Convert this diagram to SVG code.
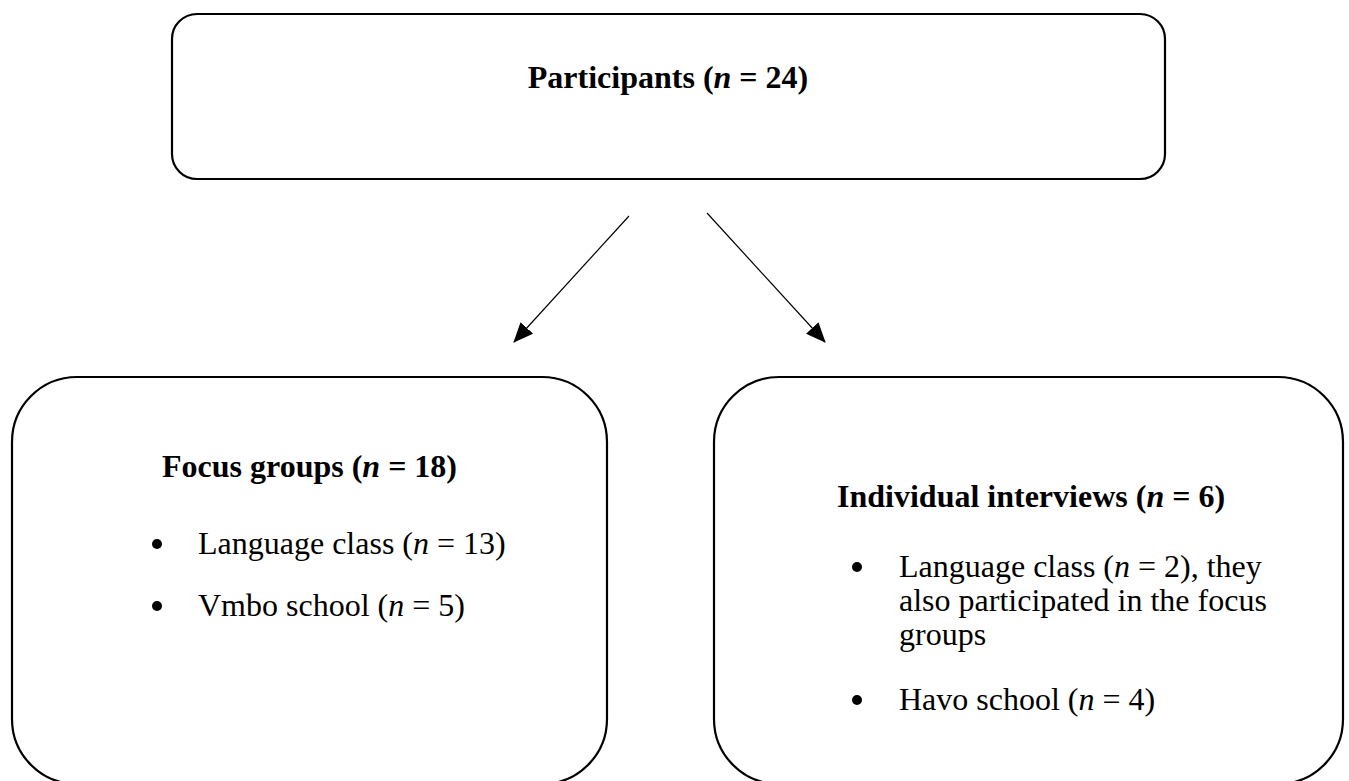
<svg xmlns="http://www.w3.org/2000/svg" width="1349" height="781" viewBox="0 0 1349 781">
<style>
.box{fill:#fff;stroke:#000;stroke-width:2.2}
.t{font-family:"Liberation Serif","Times New Roman",serif;font-size:32px;fill:#000}
.b{font-weight:bold}
.i{font-style:italic}
.edge{stroke:#000;stroke-width:1.2;fill:none}
</style>
<defs>
<marker id="ah" markerUnits="userSpaceOnUse" markerWidth="20" markerHeight="17" viewBox="0 0 20 17" refX="19" refY="8.5" orient="auto">
<path d="M0,0 L20,8.5 L0,17 Z" fill="#000"/>
</marker>
</defs>
<rect width="1349" height="781" fill="#fff"/>
<g id="participants">
<rect class="box" x="172" y="14" width="993" height="165" rx="25" ry="25"/>
<text class="t b" x="668" y="88" text-anchor="middle">Participants (<tspan class="i">n</tspan> = 24)</text>
</g>
<g id="connectors">
<line class="edge" x1="629" y1="216" x2="514" y2="342" marker-end="url(#ah)"/>
<line class="edge" x1="707" y1="213" x2="825" y2="342" marker-end="url(#ah)"/>
</g>
<g id="focus-groups">
<rect class="box" x="12" y="377" width="595" height="407" rx="65" ry="65"/>
<text class="t b" x="162" y="477">Focus groups (<tspan class="i">n</tspan> = 18)</text>
<circle cx="157" cy="544" r="5"/>
<text class="t" x="198" y="554">Language class (<tspan class="i">n</tspan> = 13)</text>
<circle cx="157" cy="606" r="5"/>
<text class="t" x="198" y="616">Vmbo school (<tspan class="i">n</tspan> = 5)</text>
</g>
<g id="individual-interviews">
<rect class="box" x="714" y="377" width="629" height="407" rx="65" ry="65"/>
<text class="t b" x="837" y="507">Individual interviews (<tspan class="i">n</tspan> = 6)</text>
<circle cx="857" cy="567" r="5"/>
<text class="t" x="899" y="577">Language class (<tspan class="i">n</tspan> = 2), they</text>
<text class="t" x="899" y="611">also participated in the focus</text>
<text class="t" x="899" y="645">groups</text>
<circle cx="857" cy="700" r="5"/>
<text class="t" x="899" y="710">Havo school (<tspan class="i">n</tspan> = 4)</text>
</g>
</svg>
